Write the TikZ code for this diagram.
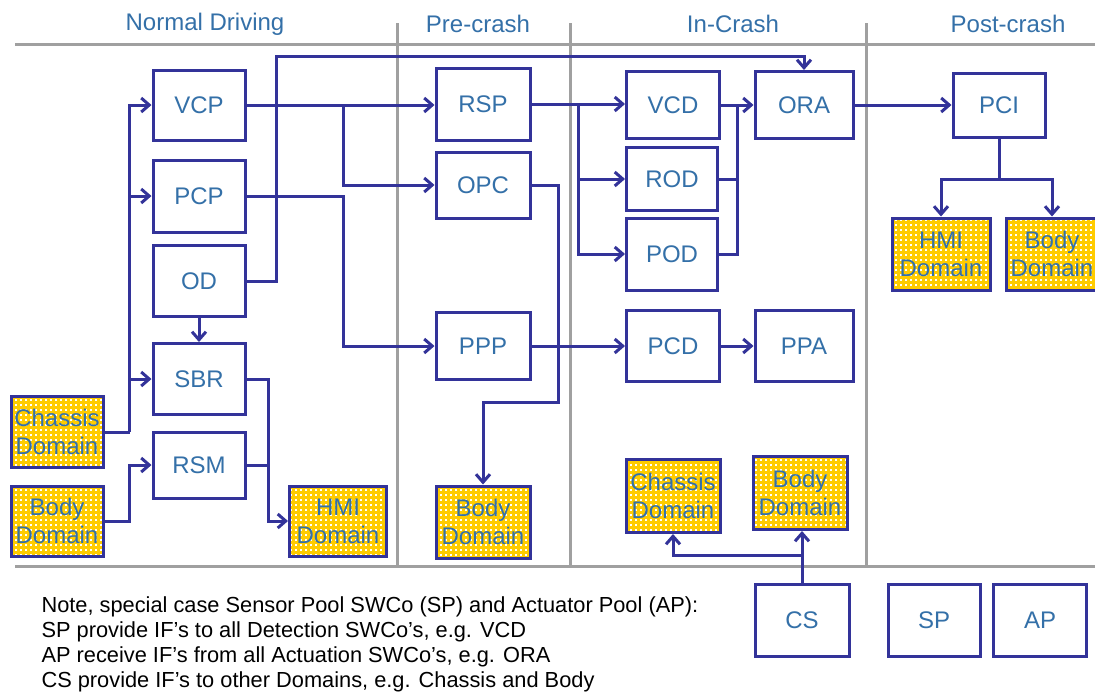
\documentclass[tikz,border=0pt]{standalone}
\usepackage{fontspec}
\setmainfont{Liberation Sans}
\usetikzlibrary{arrows.meta,patterns,calc}
\definecolor{swcline}{HTML}{333399}
\definecolor{swctext}{HTML}{3470A8}
\definecolor{domyellow}{HTML}{FFCC00}
\definecolor{phasegray}{HTML}{A0A0A0}
\pgfdeclarepatternformonly{domdots}{\pgfqpoint{-1pt}{-1pt}}{\pgfqpoint{6pt}{6pt}}{\pgfqpoint{5pt}{5pt}}%
  {\pgfpathrectangle{\pgfqpoint{0pt}{0pt}}{\pgfqpoint{2pt}{2pt}}\pgfusepath{fill}}
\tikzstyle{swc}=[draw=swcline,line width=3pt,minimum width=92pt,minimum height=70pt,
  inner sep=0pt,text=swctext,font=\fontsize{24}{28}\selectfont,align=center]
\tikzstyle{box}=[swc,fill=white]
\tikzstyle{dombox}=[swc,preaction={fill=domyellow},pattern=domdots,pattern color=white]
\tikzstyle{link}=[draw=swcline,line width=3pt]
\tikzstyle{flow}=[link,-{Straight Barb[length=8pt,width=14pt]}]
\tikzstyle{phaseline}=[draw=phasegray,line width=3pt]
\tikzstyle{phasehead}=[text=swctext,font=\fontsize{24}{28}\selectfont]

\begin{document}
\begin{tikzpicture}[x=1pt,y=-1pt]
	\useasboundingbox (0,0) rectangle (1095,691);
	% phases
	\draw[phaseline] (15,44) -- (1095,44) (15,566) -- (1095,566);
	\draw[phaseline] (397,23) -- (397,566) (570,23) -- (570,566) (866,23) -- (866,566);
	\node[phasehead] (hnd) at (205,24) {Normal Driving};
	\node[phasehead] (hpre) at (478,24) {Pre-crash};
	\node[phasehead] (hin) at (733,24) {In-Crash};
	\node[phasehead] (hpost) at (1008,24) {Post-crash};

	% normal driving
	\node[box] (VCP) at (199,105) {VCP};
	\node[box,minimum height=72pt] (PCP) at (199,196) {PCP};
	\node[box,minimum height=71pt] (OD) at (199,281) {OD};
	\node[box,minimum height=71pt] (SBR) at (199,379) {SBR};
	\node[box,minimum height=66pt] (RSM) at (199,465) {RSM};
	\node[dombox,minimum height=71pt] (chL) at (57,432) {Chassis\\Domain};
	\node[dombox] (boL) at (57,521) {Body\\Domain};
	\node[dombox,minimum width=97pt] (hmiL) at (338,521) {HMI\\Domain};

	% pre-crash
	\node[box,minimum width=94pt,minimum height=72pt] (RSP) at (483,104) {RSP};
	\node[box,minimum width=94pt,minimum height=66pt] (OPC) at (483,185) {OPC};
	\node[box,minimum width=94pt,minimum height=67pt] (PPP) at (483,346) {PPP};
	\node[dombox,minimum width=94pt,minimum height=72pt] (boP) at (483,522) {Body\\Domain};

	% in-crash
	\node[box,minimum width=93pt,minimum height=67pt] (VCD) at (673,105) {VCD};
	\node[box,minimum width=91pt,minimum height=63pt] (ROD) at (672,179) {ROD};
	\node[box,minimum width=91pt,minimum height=72pt] (POD) at (672,254) {POD};
	\node[box,minimum width=98pt,minimum height=67pt] (ORA) at (804,105) {ORA};
	\node[box,minimum width=93pt,minimum height=71pt] (PCD) at (673,346) {PCD};
	\node[box,minimum width=98pt,minimum height=71pt] (PPA) at (804,346) {PPA};
	\node[dombox,minimum width=94pt,minimum height=73pt] (chI) at (673,496) {Chassis\\Domain};
	\node[dombox,minimum width=94pt,minimum height=73pt] (boI) at (800,493) {Body\\Domain};

	% post-crash
	\node[box,minimum height=64pt] (PCI) at (999,105) {PCI};
	\node[dombox,minimum width=98pt,minimum height=72pt] (hmiP) at (941,254) {HMI\\Domain};
	\node[dombox,minimum height=72pt] (boQ) at (1052,254) {Body\\Domain};

	% pools
	\node[box,minimum width=94pt,minimum height=72pt] (CS) at (802,620) {CS};
	\node[box,minimum height=72pt] (SP) at (934,620) {SP};
	\node[box,minimum width=93pt,minimum height=72pt] (AP) at (1040,620) {AP};

	\node[anchor=north west,align=left,font=\fontsize{21.8}{25}\selectfont] (note) at (38,593)
		{Note, special case Sensor Pool SWCo (SP) and Actuator Pool (AP):\\
		 SP provide IF's to all Detection SWCo's, e.g. VCD\\
		 AP receive IF's from all Actuation SWCo's, e.g. ORA\\
		 CS provide IF's to other Domains, e.g. Chassis and Body};

	% connectors
	\draw[link] (chL.east) -- ++(25,0) coordinate (cbus);
	\draw[flow] (cbus) |- (VCP.west);
	\draw[flow] (cbus) |- (PCP.west);
	\draw[flow] (cbus) |- (SBR.west);
	\draw[flow] (boL.east) -- ++(25,0) |- (RSM.west);
	\draw[flow] (OD) -- (SBR);
	\coordinate (top) at (0,56);
	\draw[flow] (OD.east) -- ++(30,0) |- (top -| ORA.north) -- (ORA.north);
	\draw[flow] (VCP.east) -- (VCP.east -| RSP.west);
	\draw[flow] (VCP.east) ++(97,0) coordinate (vbus) |- (OPC.west);
	\draw[flow] (PCP.east) -- ++(97,0) |- (PPP.west);
	\draw[flow] (SBR.east) -- ++(22,0) |- (hmiL.west);
	\draw[link] (RSM.east) -- ++(22,0);
	\draw[flow] (RSP.east) -- (RSP.east -| VCD.west);
	\draw[flow] (RSP.east) ++(47,0) coordinate (rbus) |- (ROD.west);
	\draw[flow] (rbus) |- (POD.west);
	\draw[flow] (OPC.east) -- ++(27,0) -- ++(0,217) -| (boP.north);
	\draw[flow] (VCD) -- (ORA);
	\coordinate (oj) at ($(VCD.east)!0.5!(ORA.west)$);
	\draw[link] (ROD.east) -| (oj);
	\draw[link] (POD.east) -| (oj);
	\draw[flow] (PPP) -- (PCD);
	\draw[flow] (PCD) -- (PPA);
	\draw[flow] (ORA) -- (PCI);
	\draw[flow] (PCI.south) -- ++(0,41) coordinate (pj) -| (hmiP.north);
	\draw[flow] (pj) -| (boQ.north);
	\draw[flow] (CS.north) -- (CS.north |- boI.south);
	\draw[flow] (CS.north) ++(0,-27) -| (chI.south);
\end{tikzpicture}
\end{document}
